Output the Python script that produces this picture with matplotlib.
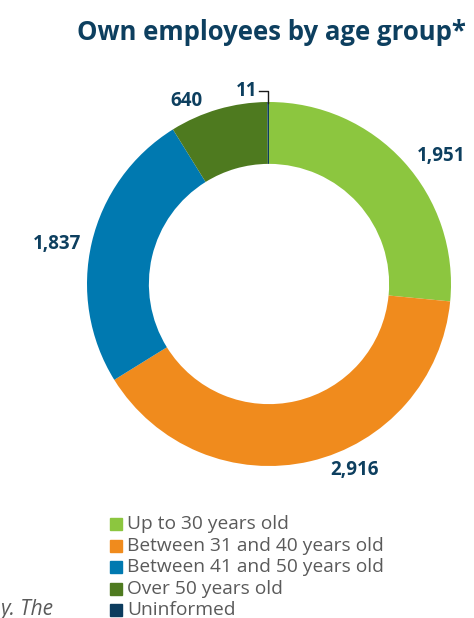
import matplotlib
matplotlib.use('Agg')
import matplotlib.pyplot as plt
from matplotlib.patches import Rectangle

plt.rcParams['font.family'] = ['Open Sans', 'DejaVu Sans']

# data
groups = ['Up to 30 years old', 'Between 31 and 40 years old',
          'Between 41 and 50 years old', 'Over 50 years old', 'Uninformed']
employees = [1951, 2916, 1837, 640, 11]
colors = ['#8cc63f', '#f08b1d', '#0079b0', '#4e7a1f', '#0c3c5e']
value_labels = ['1,951', '2,916', '1,837', '640', '11']

W, H = 474, 618
navy = '#0d3f5f'
fig = plt.figure(figsize=(W / 100, H / 100), dpi=100)


def fx(x):
    return x / W


def fy(y):
    return 1 - y / H


# donut: centre (269, 284) px, outer radius 182 px
cx, cy, r = 269, 284, 182
ax = fig.add_axes([fx(cx - r), fy(cy + r), 2 * r / W, 2 * r / H])
ax.pie(employees, colors=colors, startangle=90, counterclock=False, radius=1,
       wedgeprops=dict(width=0.34, linewidth=0))
ax.set_xlim(-1, 1)
ax.set_ylim(-1, 1)
ax.axis('off')

fig.text(fx(271), fy(32), 'Own employees by age group*', ha='center', va='center',
         fontsize=18.5, fontweight='bold', color=navy)

# value labels
label_pos = [(441, 156), (355, 470), (57, 244), (186, 101), (247, 91)]
for (x, y), lab in zip(label_pos, value_labels):
    fig.text(fx(x), fy(y), lab, ha='center', va='center', fontsize=13.5,
             fontweight='bold', color=navy)

# leader line for the tiny slice
fig.add_artist(plt.Line2D([fx(259), fx(268), fx(268)], [fy(91), fy(91), fy(103)],
                          color='#1a1a1a', lw=1.0))

# legend
for i, (g, c) in enumerate(zip(groups, colors)):
    y = 524 + i * 21.6
    fig.add_artist(Rectangle((fx(110), fy(y + 6)), 12 / W, 12 / H, color=c,
                             transform=fig.transFigure))
    fig.text(fx(127), fy(y), g, ha='left', va='center', fontsize=13.8, color='#5a5a5a')

fig.text(fx(0), fy(609), 'y. The', ha='left', va='center',
         fontsize=15, style='italic', color='#5a5a5a')

fig.savefig('out.png', dpi=100)
